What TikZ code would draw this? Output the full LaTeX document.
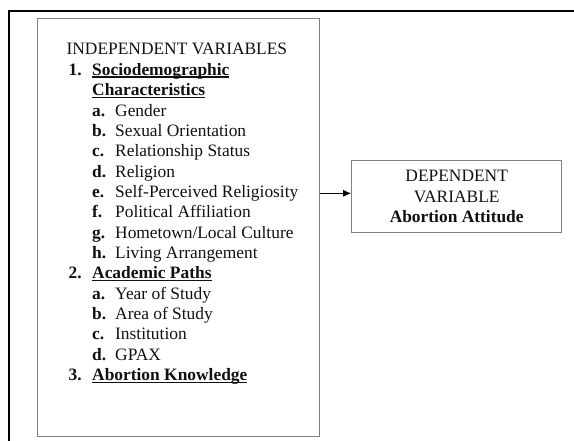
\documentclass[tikz,border=0pt]{standalone}
\usepackage{fontspec}
\setmainfont{Liberation Serif}
\usetikzlibrary{arrows.meta,positioning}
\definecolor{boxgray}{HTML}{808080}
\definecolor{textdark}{HTML}{111111}
\tikzset{
  >=Latex,
  outerframe/.style={draw=black, line width=2pt},
  listfont/.style={font=\fontsize{17.4pt}{20.35pt}\selectfont, text=textdark},
  varbox/.style={
    rectangle, draw=boxgray, line width=1.1pt, inner sep=0pt,
    listfont
  },
  listtext/.style={inner sep=0pt, anchor=base west, listfont},
  arrow/.style={-{Latex[length=8pt,width=7pt]}, line width=0.9pt, draw=black}
}
% bold text, underline close to the baseline
\newcommand{\ulbf}[1]{\setbox0=\hbox{\textbf{#1}}\rlap{\rule[-2.3pt]{\wd0}{1.2pt}}\box0}
\newcommand{\mainvar}[2]{\hspace*{2pt}\makebox[23.6pt][l]{\textbf{#1}}\ulbf{#2}}
\newcommand{\subvar}[2]{\hspace*{25.6pt}\makebox[23pt][l]{\textbf{#1}}#2}

\begin{document}
\begin{tikzpicture}[x=1pt,y=1pt]
\useasboundingbox (0,0) rectangle (574,440);
\draw[outerframe] (9,-2) -- (9,429) -- (577,429);
\node[varbox, anchor=north west, minimum width=282pt, minimum height=417.5pt] (ivbox) at (36.5,422) {};
\node[listtext] (ivlist) at (66.4,385) {\begin{tabular}[t]{@{}l@{}}
INDEPENDENT VARIABLES\\
\mainvar{1.}{Sociodemographic}\\
\hspace*{25.6pt}\ulbf{Characteristics}\\
\subvar{a.}{Gender}\\
\subvar{b.}{Sexual Orientation}\\
\subvar{c.}{Relationship Status}\\
\subvar{d.}{Religion}\\
\subvar{e.}{Self-Perceived Religiosity}\\
\subvar{f.}{Political Affiliation}\\
\subvar{g.}{Hometown/Local Culture}\\
\subvar{h.}{Living Arrangement}\\
\mainvar{2.}{Academic Paths}\\
\subvar{a.}{Year of Study}\\
\subvar{b.}{Area of Study}\\
\subvar{c.}{Institution}\\
\subvar{d.}{GPAX}\\
\mainvar{3.}{Abortion Knowledge}
\end{tabular}};
\node[varbox, minimum width=210pt, minimum height=72pt, align=center] (dvbox) at (456.7,243.3) {DEPENDENT\\VARIABLE\\\textbf{Abortion Attitude}};
\coordinate (tap) at (ivbox.east |- 0,246.7);
\draw[arrow] (tap) -- (dvbox.west |- tap);
\end{tikzpicture}
\end{document}
